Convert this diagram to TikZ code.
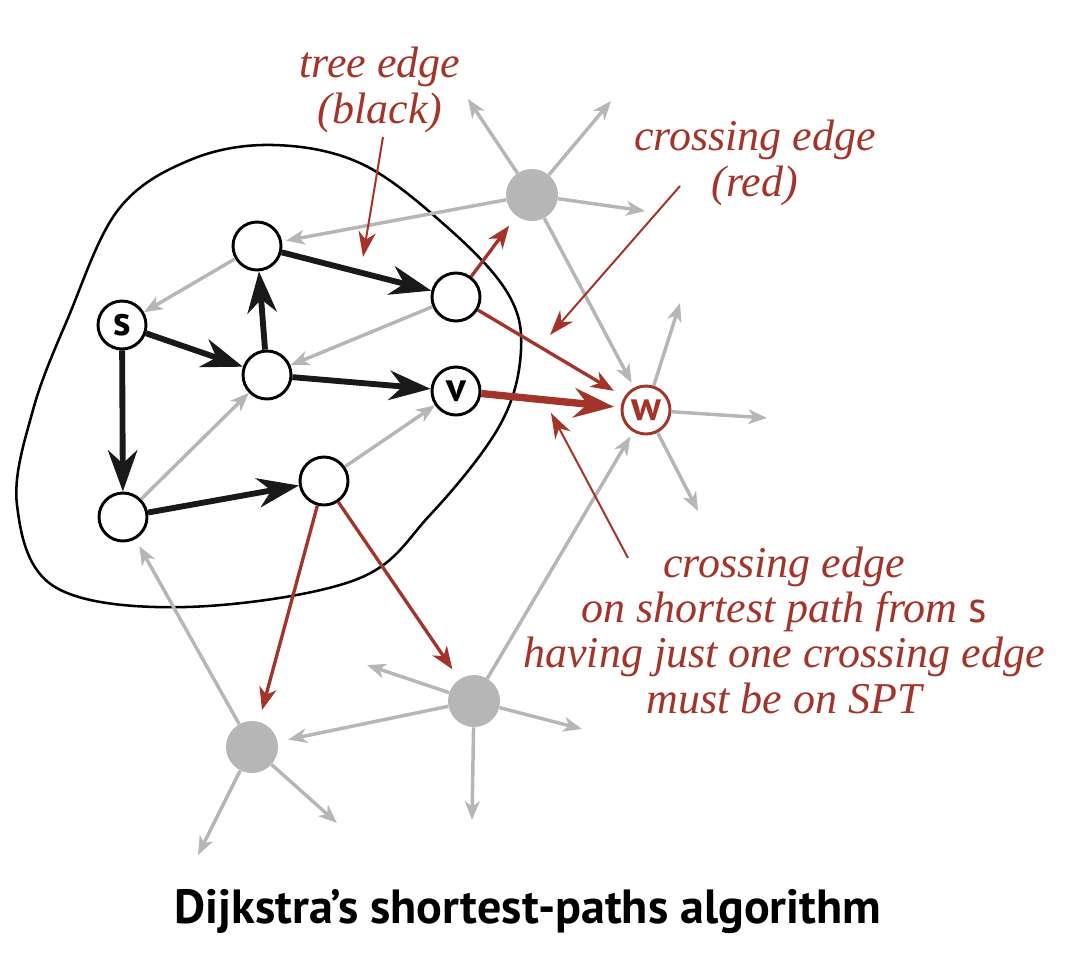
\documentclass[tikz,border=0pt]{standalone}
\usepackage{fontspec}
\newfontfamily\labelfont{PT Sans}
\newfontfamily\notefont{Liberation Serif}
\usetikzlibrary{arrows.meta}
\definecolor{crossred}{RGB}{163,52,42}
\definecolor{othergray}{RGB}{182,182,182}

\begin{document}
\begin{tikzpicture}[x=0.75pt, y=-0.75pt,
    vertex/.style={circle, draw=black, line width=2.2pt, fill=white, minimum size=36pt, inner sep=0pt,
      font=\labelfont\bfseries\fontsize{31}{31}\selectfont},
    outside/.style={circle, fill=othergray, minimum size=39pt, inner sep=0pt},
    tree/.style={black!90, line width=4.4pt, -{Stealth[length=31pt, width=22pt, inset=10pt]}},
    cross/.style={crossred, line width=2.5pt, -{Stealth[length=17pt, width=13pt, inset=5pt]}, shorten >=9pt},
    other/.style={othergray, line width=2.6pt, -{Stealth[length=14pt, width=11pt, inset=4pt]}},
    pointer/.style={crossred, line width=1.5pt, -{Stealth[length=19pt, width=13pt, inset=6pt]}},
    note/.style={crossred, font=\notefont\itshape\fontsize{33}{34}\selectfont, align=center}
  ]
  \useasboundingbox (0,0) rectangle (1084,960);

  % the set of vertices already in the tree
  \draw[line width=1.9pt] plot[smooth cycle, tension=0.6] coordinates {
      (273,145) (362,164) (447,227) (507,292) (521,350) (500,425) (430,515) (355,580)
      (186,607) (55,587) (17,505) (33,410) (68,318) (118,210) (190,160)};

  \node[vertex] (s) at (122,325) {s};
  \node[vertex] (a) at (257,246) {};
  \node[vertex] (b) at (456,297) {};
  \node[vertex] (c) at (267,375) {};
  \node[vertex] (v) at (456,391) {v};
  \node[vertex] (d) at (123,517) {};
  \node[vertex] (e) at (324,481) {};
  \node[vertex, draw=crossred, text=crossred] (w) at (646,410) {w};

  \node[outside] (g1) at (532,195) {};
  \node[outside] (g2) at (252,747) {};
  \node[outside] (g3) at (474,701) {};

  \coordinate (g1nw) at (468,99);  \coordinate (g1ne) at (611,101);
  \coordinate (g1e) at (645,211);
  \coordinate (wne) at (680,303);  \coordinate (we) at (767,418);
  \coordinate (wse) at (698,511);
  \coordinate (g2sw) at (198,855); \coordinate (g2se) at (337,823);
  \coordinate (g3nw) at (367,665); \coordinate (g3e) at (582,729);
  \coordinate (g3s) at (472,820);

  % gray edges
  \draw[other, shorten >=3pt] (g1) -- (a);
  \draw[other] (g1) -- (g1nw);
  \draw[other] (g1) -- (g1ne);
  \draw[other] (g1) -- (g1e);
  \draw[other, shorten >=4pt] (g1) -- (w);
  \draw[other] (a) -- (s);
  \draw[other] (b) -- (c);
  \draw[other] (d) -- (c);
  \draw[other] (e) -- (v);
  \draw[other] (w) -- (wne);
  \draw[other] (w) -- (we);
  \draw[other] (w) -- (wse);
  \draw[other, shorten >=4pt] (g3) -- (w);
  \draw[other, shorten >=6pt] (g2) -- (d);
  \draw[other] (g2) -- (g2sw);
  \draw[other] (g2) -- (g2se);
  \draw[other, shorten >=8pt] (g3) -- (g2);
  \draw[other] (g3) -- (g3nw);
  \draw[other] (g3) -- (g3e);
  \draw[other] (g3) -- (g3s);

  % crossing edges
  \draw[cross] (b) -- (g1);
  \draw[cross] (b) -- (w);
  \draw[cross] (e) -- (g2);
  \draw[cross] (e) -- (g3);
  \draw[crossred, line width=5.5pt, -{Stealth[length=30pt, width=22pt, inset=10pt]}, shorten >=5pt] (v) -- (w);

  % tree edges
  \draw[tree] (s) -- (c);
  \draw[tree] (c) -- (a);
  \draw[tree] (a) -- (b);
  \draw[tree] (c) -- (v);
  \draw[tree] (s) -- (d);
  \draw[tree] (d) -- (e);

  % notes
  \node[note] (treenote) at (380,90) {tree edge\\(black)};
  \node[note] (crossnote) at (755,163) {crossing edge\\(red)};
  \node[note] (sptnote) at (784,630) {crossing edge\\on shortest path from {\labelfont\upshape s}\\having just one crossing edge\\must be on SPT};
  \coordinate (treefrom) at (383,137);  \coordinate (treeto) at (363,257);
  \coordinate (crossfrom) at (680,186); \coordinate (crossto) at (550,335);
  \coordinate (sptfrom) at (628,558);   \coordinate (sptto) at (551,413);
  \draw[pointer] (treefrom) -- (treeto);
  \draw[pointer] (crossfrom) -- (crossto);
  \draw[pointer] (sptfrom) -- (sptto);

  \node[font=\labelfont\bfseries\fontsize{36}{40}\selectfont] (title) at (528,912) {Dijkstra’s shortest-paths algorithm};
\end{tikzpicture}
\end{document}
